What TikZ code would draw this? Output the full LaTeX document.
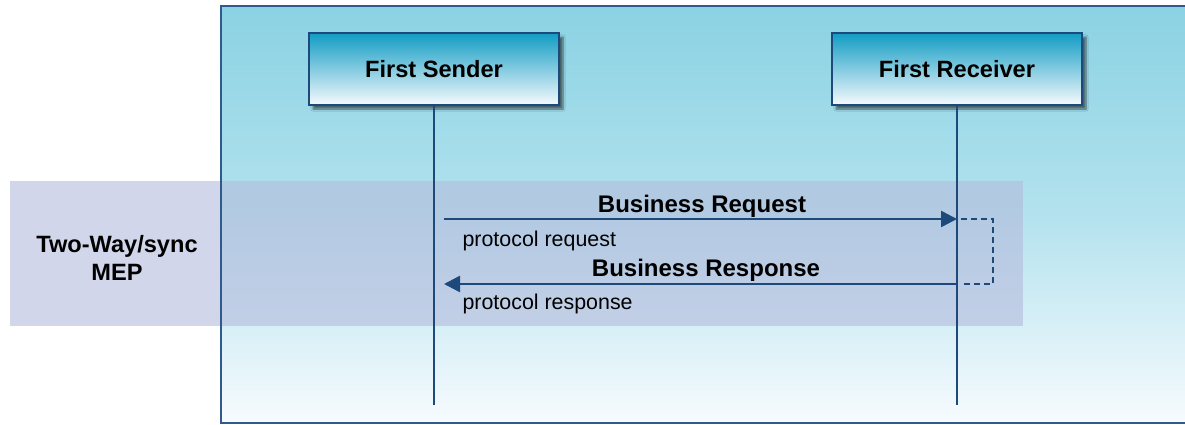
\documentclass[tikz,border=0pt]{standalone}
\usepackage{fontspec}
\setmainfont{Liberation Sans}
\usetikzlibrary{arrows.meta,shadows.blur,calc}

\definecolor{navy}{HTML}{1D4A7A}
\definecolor{frameline}{HTML}{2E5A8C}
\definecolor{bgtop}{HTML}{8AD2E3}
\definecolor{bgmid}{HTML}{B3E2EE}
\definecolor{bgbot}{HTML}{F7FBFE}
\definecolor{boxtop}{HTML}{129CC4}
\definecolor{boxbot}{HTML}{F5FAFD}
\definecolor{band}{HTML}{B4BADC}

\tikzset{
  actor/.style={draw=navy, line width=2.5pt, minimum width=250pt, minimum height=72pt,
    top color=boxtop, bottom color=boxbot, font=\fontsize{23.6}{28}\selectfont\bfseries,
    blur shadow={shadow xshift=4pt, shadow yshift=-4pt, shadow blur steps=6, shadow opacity=55}},
  lifeline/.style={draw=navy, line width=2.5pt},
  msg/.style={draw=navy, line width=2.5pt, -{Triangle[length=16pt,width=16pt]}},
  loopline/.style={draw=navy, line width=2.5pt, dash pattern=on 6pt off 4pt},
  msglabel/.style={font=\fontsize{24}{28}\selectfont\bfseries},
  protolabel/.style={font=\fontsize{21.4}{25}\selectfont, anchor=west},
  meplabel/.style={font=\fontsize{23.6}{28}\selectfont\bfseries, align=center}
}

\begin{document}
\begin{tikzpicture}[x=1pt,y=-1pt]
\useasboundingbox (0,0) rectangle (1185,425);
\clip (0,0) rectangle (1185,425);

% framed backdrop with vertical gradient
\shade[top color=bgtop, bottom color=bgbot, middle color=bgmid]
  (221,6) rectangle (1195,423);

% exchange-pattern band
\fill[band, opacity=0.6] (10,181) rectangle (1023,326);

% backdrop frame
\draw[frameline, line width=2.5pt] (1195,6) -- (221,6) -- (221,423) -- (1195,423);

% participants
\node[actor] (snd) at (434,69) {First Sender};
\node[actor] (rcv) at (957,69) {First Receiver};

% lifelines
\path (snd.south) ++(0,299) coordinate (sndEnd);
\path (rcv.south) ++(0,299) coordinate (rcvEnd);
\draw[lifeline] (snd.south) -- (sndEnd);
\draw[lifeline] (rcv.south) -- (rcvEnd);

% message anchor points
\coordinate (reqFrom) at ($(snd.south |- 0,219)+(10,0)$);
\coordinate (reqTo) at (rcv.south |- 0,219);
\coordinate (resFrom) at (rcv.south |- 0,284);
\coordinate (resTo) at ($(snd.south |- 0,284)+(10,0)$);
\coordinate (loopA) at ($(reqTo)+(4,0)$);
\coordinate (loopB) at ($(resFrom)+(4,0)$);

% messages
\draw[msg] (reqFrom) -- (reqTo);
\draw[msg] (resFrom) -- (resTo);
\draw[loopline] (loopA) -- ++(32,0) |- (loopB);

% labels
\node[msglabel] (reqLbl) at (702,206) {Business Request};
\node[protolabel] (reqProto) at (459,241) {protocol request};
\node[msglabel] (resLbl) at (706,270) {Business Response};
\node[protolabel] (resProto) at (459,304) {protocol response};
\node[meplabel] (mep) at (117,258) {Two-Way/sync\\MEP};
\end{tikzpicture}
\end{document}
